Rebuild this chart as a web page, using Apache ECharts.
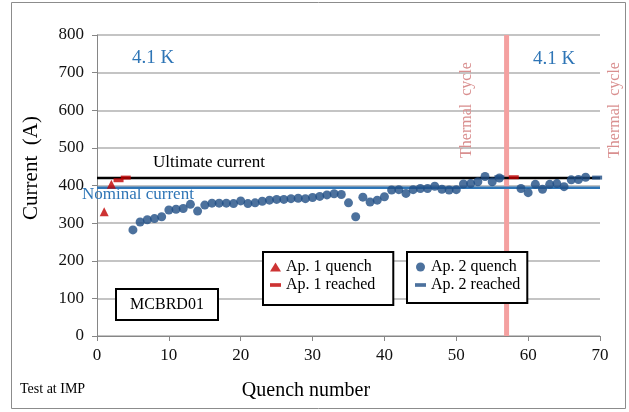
<!DOCTYPE html>
<html>
<head>
<meta charset="utf-8">
<title>MCBRD01 training quenches</title>
<script src="https://cdn.jsdelivr.net/npm/echarts@6/dist/echarts.min.js"></script>
<style>
  html, body { margin: 0; padding: 0; background: #fff; }
  #chart { width: 629px; height: 412px; }
</style>
</head>
<body>
<div id="chart"></div>
<script>
// Aperture 1 quenches and reached (no-quench) levels
const ap1QuenchX = [1, 2];
const ap1QuenchY = [330, 403];
const ap1ReachedX = [3, 4, 58];
const ap1ReachedY = [414, 421, 422];

// Aperture 2 quenches
const ap2QuenchX = [5, 6, 7, 8, 9, 10, 11, 12, 13, 14, 15, 16, 17, 18, 19, 20,
  21, 22, 23, 24, 25, 26, 27, 28, 29, 30, 31, 32, 33, 34, 35, 36, 37, 38, 39, 40,
  41, 42, 43, 44, 45, 46, 47, 48, 49, 50, 51, 52, 53, 54, 55, 56,
  59, 60, 61, 62, 63, 64, 65, 66, 67, 68];
const ap2QuenchY = [282, 303, 309, 312, 317, 335, 337, 339, 350, 332, 348, 353, 353, 353, 352, 359,
  352, 354, 358, 361, 363, 363, 365, 366, 365, 368, 371, 375, 378, 376, 354, 317, 369, 356, 361, 370,
  388, 389, 379, 389, 392, 392, 398, 390, 388, 389, 404, 405, 410, 424, 410, 420,
  392, 381, 403, 390, 403, 405, 397, 415, 416, 422];
const ap2ReachedX = [56, 69.6];
const ap2ReachedY = [422, 421];

// Reference levels (A) and thermal cycle position
const nominalCurrent = 394;
const ultimateCurrent = 420;
const thermalCycleAt = 57;
const xRange = [0, 70];
const yRange = [0, 800];

const zipXY = (xs, ys) => xs.map((x, i) => [x, ys[i]]);

const SERIF = '"Liberation Serif", "DejaVu Serif", serif';
const RED = '#c00000';
const BLUE = '#1f4e85';
const DASH = 'path://M0,0h12v4h-12z';

const chart = echarts.init(document.getElementById('chart'), null, { renderer: 'canvas' });

chart.setOption({
  animation: false,
  backgroundColor: '#ffffff',
  grid: { left: 97, right: 29, top: 35, bottom: 76, containLabel: false },
  xAxis: {
    type: 'value', min: xRange[0], max: xRange[1], interval: 10,
    axisLine: { show: true, lineStyle: { color: '#868686', width: 1 } },
    axisTick: { show: true, length: 5, lineStyle: { color: '#868686' } },
    splitLine: { show: false },
    axisLabel: { margin: 11, color: '#111', fontFamily: SERIF, fontSize: 17 }
  },
  yAxis: {
    type: 'value', min: yRange[0], max: yRange[1], interval: 100,
    axisLine: { show: true, lineStyle: { color: '#868686', width: 1 } },
    axisTick: { show: true, length: 5, lineStyle: { color: '#868686' } },
    splitLine: { show: true, lineStyle: { color: '#b0b0b0', width: 1.5 } },
    axisLabel: { margin: 13, color: '#111', fontFamily: SERIF, fontSize: 17 }
  },
  legend: [
    {
      orient: 'vertical', left: 263, top: 252,
      padding: [7, 18, 12, 7], itemGap: 2, itemWidth: 11, itemHeight: 9,
      borderColor: '#000', borderWidth: 2, backgroundColor: '#fff',
      textStyle: { fontFamily: SERIF, fontSize: 16, color: '#000' },
      data: [
        { name: 'Ap. 1 quench', icon: 'triangle' },
        { name: 'Ap. 1 reached', icon: DASH }
      ]
    },
    {
      orient: 'vertical', left: 407, top: 252,
      padding: [7, 7, 10, 8], itemGap: 2, itemWidth: 11, itemHeight: 9,
      borderColor: '#000', borderWidth: 2, backgroundColor: '#fff',
      textStyle: { fontFamily: SERIF, fontSize: 16, color: '#000' },
      data: [
        { name: 'Ap. 2 quench', icon: 'circle' },
        { name: 'Ap. 2 reached', icon: DASH }
      ]
    }
  ],
  series: [
    {
      name: 'Thermal cycle line', type: 'line', z: 1, silent: true, symbol: 'none',
      lineStyle: { color: '#f4a0a0', width: 5 },
      data: [[thermalCycleAt, yRange[0]], [thermalCycleAt, yRange[1]]]
    },
    {
      name: 'Nominal', type: 'line', z: 1, silent: true, symbol: 'none',
      lineStyle: { color: '#2e75b6', width: 2.5 },
      data: [[xRange[0], nominalCurrent], [xRange[1], nominalCurrent]]
    },
    {
      name: 'Ultimate', type: 'line', z: 1, silent: true, symbol: 'none',
      lineStyle: { color: '#000', width: 2.5 },
      data: [[xRange[0], ultimateCurrent], [xRange[1], ultimateCurrent]]
    },
    {
      name: 'Ap. 1 quench', type: 'scatter', z: 3, symbol: 'triangle', symbolSize: 9,
      symbolKeepAspect: true,
      itemStyle: { color: RED },
      data: zipXY(ap1QuenchX, ap1QuenchY)
    },
    {
      name: 'Ap. 1 reached', type: 'scatter', z: 3, symbol: 'rect', symbolSize: [10, 4],
      symbolKeepAspect: true,
      itemStyle: { color: RED },
      data: zipXY(ap1ReachedX, ap1ReachedY)
    },
    {
      name: 'Ap. 2 quench', type: 'scatter', z: 3, symbol: 'circle', symbolSize: 9,
      symbolKeepAspect: true,
      itemStyle: { color: BLUE },
      data: zipXY(ap2QuenchX, ap2QuenchY)
    },
    {
      name: 'Ap. 2 reached', type: 'scatter', z: 3, symbol: 'rect', symbolSize: [10, 4],
      symbolKeepAspect: true, clip: false,
      itemStyle: { color: BLUE },
      data: zipXY(ap2ReachedX, ap2ReachedY)
    }
  ],
  graphic: [
    // outer frame
    { type: 'rect', shape: { x: 11.5, y: 2.5, width: 614, height: 406 },
      style: { fill: 'none', stroke: '#8c8c8c', lineWidth: 1 }, z: 0, silent: true },
    // axis titles
    { type: 'text', x: 306, y: 391, z: 10,
      style: { text: 'Quench number', fill: '#000', font: '20px ' + SERIF, align: 'center', verticalAlign: 'middle' } },
    { type: 'text', x: 31, y: 168, rotation: Math.PI / 2, z: 10,
      style: { text: 'Current  (A)', fill: '#000', font: '21px ' + SERIF, align: 'center', verticalAlign: 'middle' } },
    { type: 'text', x: 20, y: 389, z: 10,
      style: { text: 'Test at IMP', fill: '#000', font: '14px ' + SERIF, align: 'left', verticalAlign: 'middle' } },
    // temperature labels
    { type: 'text', x: 153, y: 58, z: 10,
      style: { text: '4.1 K', fill: '#2e75b6', font: '19px ' + SERIF, align: 'center', verticalAlign: 'middle' } },
    { type: 'text', x: 554, y: 59, z: 10,
      style: { text: '4.1 K', fill: '#2e75b6', font: '19px ' + SERIF, align: 'center', verticalAlign: 'middle' } },
    // reference line captions
    { type: 'text', x: 209, y: 163, z: 10,
      style: { text: 'Ultimate current', fill: '#000', font: '17px ' + SERIF, align: 'center', verticalAlign: 'middle' } },
    { type: 'text', x: 82, y: 195, z: 10,
      style: { text: 'Nominal current', fill: '#2e75b6', font: '17px ' + SERIF, align: 'left', verticalAlign: 'middle' } },
    // thermal cycle captions
    { type: 'text', x: 467, y: 110, rotation: Math.PI / 2, z: 10,
      style: { text: 'Thermal  cycle', fill: '#d98f8f', font: '16px ' + SERIF, align: 'center', verticalAlign: 'middle' } },
    { type: 'text', x: 615, y: 110, rotation: Math.PI / 2, z: 10,
      style: { text: 'Thermal  cycle', fill: '#d98f8f', font: '16px ' + SERIF, align: 'center', verticalAlign: 'middle' } },
    // magnet name box
    { type: 'rect', shape: { x: 116, y: 289, width: 102, height: 31 }, z: 10,
      style: { fill: '#fff', stroke: '#000', lineWidth: 2 } },
    { type: 'text', x: 167, y: 305, z: 11,
      style: { text: 'MCBRD01', fill: '#000', font: '16px ' + SERIF, align: 'center', verticalAlign: 'middle' } }
  ]
});
</script>
</body>
</html>
